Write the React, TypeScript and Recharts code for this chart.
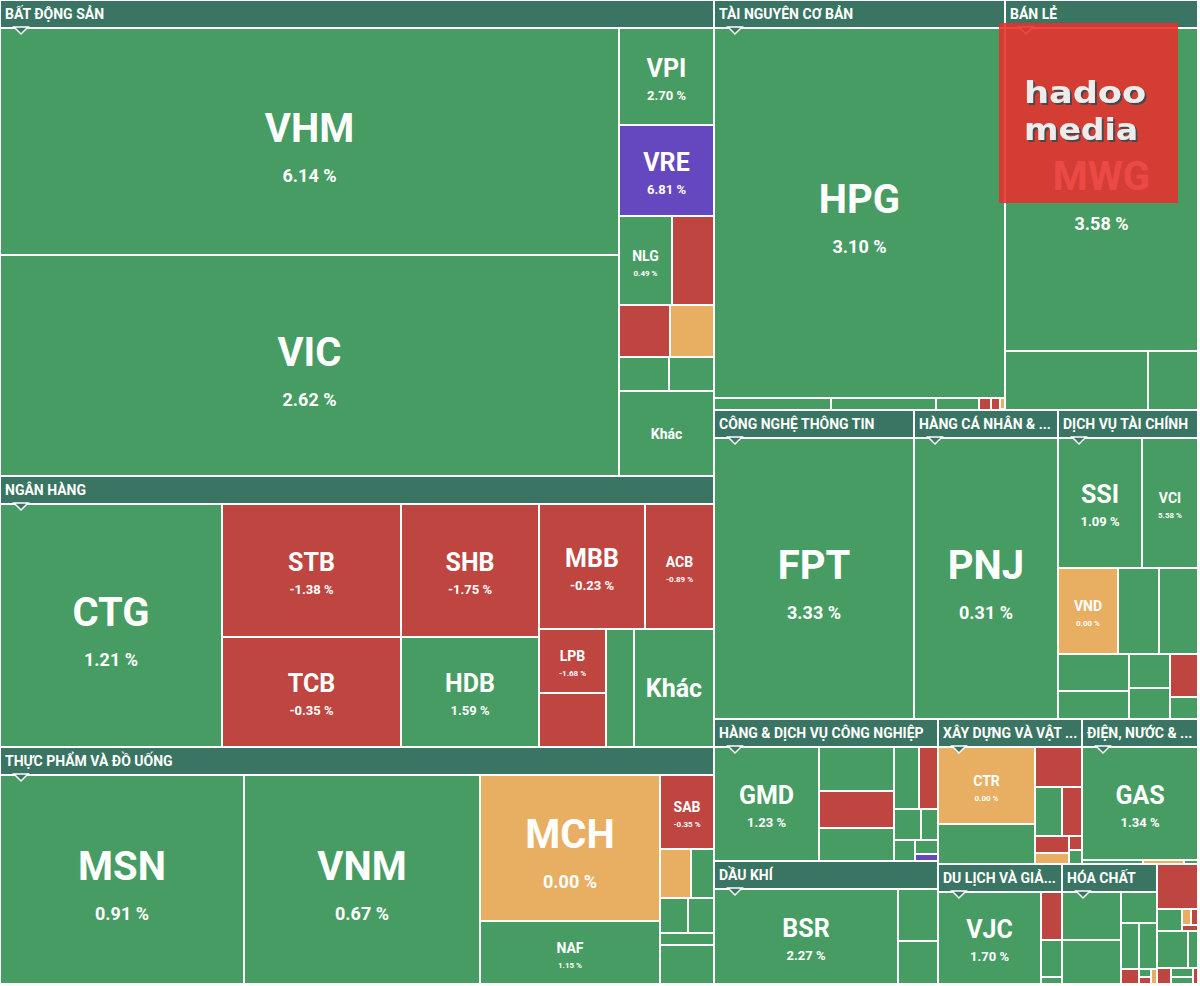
import { Treemap } from "recharts"

// [ticker, size, % change] — empty ticker = cell too small to be labelled
type Stock = [string, number, number]

const batDongSan: Stock[] = [
  ["VHM", 148.5, 6.14], ["VIC", 145, 2.62], ["VPI", 9.8, 2.7], ["VRE", 9.2, 6.81], ["NLG", 5.0, 0.49],
  ["", 3.9, -1.2], ["", 2.8, -0.9], ["", 2.4, 0], ["", 1.8, 0.8], ["", 1.6, 0.6], ["Khác", 8.6, 1.1],
]
const nganHang: Stock[] = [
  ["CTG", 60, 1.21], ["STB", 26.4, -1.38], ["TCB", 21.9, -0.35], ["SHB", 20.4, -1.75], ["HDB", 16.8, 1.59],
  ["MBB", 14.8, -0.23], ["ACB", 9.6, -0.89], ["LPB", 4.8, -1.68], ["", 4.0, -0.5], ["", 3.7, 0.4], ["Khác", 10.5, 0.5],
]
const thucPham: Stock[] = [
  ["MSN", 57.5, 0.91], ["VNM", 55.5, 0.67], ["MCH", 29.6, 0], ["NAF", 12.7, 1.15], ["SAB", 4.5, -0.35],
  ["", 1.7, 0], ["", 1.3, 0.5], ["", 1.1, 0.4], ["", 1.0, 0.3], ["", 0.7, 0.2], ["", 2.6, 0.6],
]
const taiNguyen: Stock[] = [
  ["HPG", 114.8, 3.1], ["", 1.5, 0.5], ["", 1.35, 0.4], ["", 0.55, 0.3], ["", 0.15, -1],
  ["", 0.12, -0.6], ["", 0.06, 0], ["", 0.05, -0.4], ["", 0.05, 0.2],
]
const banLe: Stock[] = [["MWG", 66.8, 3.58], ["", 9.0, 0.9], ["", 3.1, 0.7]]
const congNghe: Stock[] = [["FPT", 61.6, 3.33]]
const hangCaNhan: Stock[] = [["PNJ", 44.4, 0.31]]
const dichVuTaiChinh: Stock[] = [
  ["SSI", 11.9, 1.09], ["VCI", 7.9, 5.58], ["VND", 5.6, 0], ["", 3.85, 0.8], ["", 3.75, 1.2], ["", 2.9, 0.9],
  ["", 2.15, 0.6], ["", 1.5, 0.5], ["", 1.4, 0.7], ["", 1.3, -0.8], ["", 0.65, 0.3],
]
const congNghiep: Stock[] = [
  ["GMD", 14.8, 1.23], ["", 4.1, 0.8], ["", 3.4, -1.1], ["", 3.1, 0.6], ["", 1.9, 0.5], ["", 1.5, -0.9],
  ["", 1.05, 0.4], ["", 0.65, 0.3], ["", 0.55, 0.2], ["", 0.4, 0.5], ["", 0.25, 6.9],
]
const dauKhi: Stock[] = [["BSR", 22.5, 2.27], ["", 2.7, 0.9], ["", 2.2, 0.6]]
const xayDung: Stock[] = [
  ["CTR", 9.2, 0], ["", 4.8, 0.7], ["", 2.3, -1.0], ["", 1.65, 0.5], ["", 1.2, -0.7], ["", 0.73, -0.5],
  ["", 0.43, 0], ["", 0.22, -0.4], ["", 0.22, 0.3], ["", 0.07, 0.2],
]
const dienNuoc: Stock[] = [["GAS", 16.0, 1.34], ["", 0.3, 0.4], ["", 0.2, 0], ["", 0.1, 0.3]]
const duLich: Stock[] = [["VJC", 12.3, 1.7], ["", 1.3, -0.9], ["", 1.0, 0.5], ["", 0.2, 0.3]]
const hoaChat: Stock[] = [
  ["", 3.7, 0.8], ["", 3.35, 0.6], ["", 1.45, 0.5], ["", 1.08, 0.4], ["", 1.07, 0.3],
  ["", 0.36, -0.6], ["", 0.13, 0.2], ["", 0.1, -0.3], ["", 0.1, 0],
]
const baoHiem: Stock[] = [["", 1.85, -1.1], ["", 0.55, 0.4], ["", 0.15, 0], ["", 0.1, -0.5], ["", 0.08, -0.3]]
const yTe: Stock[] = [["", 1.15, 0.5], ["", 0.35, 0.3]]
const oTo: Stock[] = [["", 0.3, -0.6], ["", 0.25, 0.4], ["", 0.2, 0.2], ["", 0.1, -0.3]]
const truyenThong: Stock[] = [["", 0.2, 0.3]]

const sectorNames = [
  "BẤT ĐỘNG SẢN", "NGÂN HÀNG", "THỰC PHẨM VÀ ĐỒ UỐNG", "TÀI NGUYÊN CƠ BẢN", "BÁN LẺ",
  "CÔNG NGHỆ THÔNG TIN", "HÀNG CÁ NHÂN & GIA DỤNG", "DỊCH VỤ TÀI CHÍNH", "HÀNG & DỊCH VỤ CÔNG NGHIỆP",
  "DẦU KHÍ", "XÂY DỰNG VÀ VẬT LIỆU", "ĐIỆN, NƯỚC & XĂNG DẦU KHÍ ĐỐT", "DU LỊCH VÀ GIẢI TRÍ",
  "HÓA CHẤT", "BẢO HIỂM", "Y TẾ", "Ô TÔ VÀ PHỤ TÙNG", "TRUYỀN THÔNG",
]
const sectorStocks = [
  batDongSan, nganHang, thucPham, taiNguyen, banLe, congNghe, hangCaNhan, dichVuTaiChinh, congNghiep,
  dauKhi, xayDung, dienNuoc, duLich, hoaChat, baoHiem, yTe, oTo, truyenThong,
]

const GREEN = "#479C63"
const RED = "#BE4540"
const ORANGE = "#E8AF62"
const PURPLE = "#6548BF"
const HEADER = "#3A7462"
const FONT = "Roboto, 'Noto Sans', sans-serif"
const HEADER_H = 28

const sectorData = sectorNames.map((name, i) => ({
  name,
  size: sectorStocks[i].reduce((s, d) => s + d[1], 0),
  stocks: sectorStocks[i].map(([ticker, size, chg]) => ({ name: ticker, size, chg })),
}))

const cellColor = (chg: number) => (chg >= 6.5 ? PURPLE : chg > 0 ? GREEN : chg < 0 ? RED : ORANGE)

let measureCtx: CanvasRenderingContext2D | null = null
function textWidth(s: string, font: string) {
  if (!measureCtx) measureCtx = document.createElement("canvas").getContext("2d")
  if (!measureCtx) return s.length * 8.5
  measureCtx.font = font
  return measureCtx.measureText(s).width
}

function fitTitle(title: string, maxW: number) {
  const font = "bold 14px Roboto"
  if (textWidth(title, font) <= maxW) return title
  for (let i = title.length - 1; i > 0; i--) {
    const t = title.slice(0, i) + "..."
    if (textWidth(t, font) <= maxW) return t
  }
  return ""
}

const renderStock = (props: any) => {
  const { depth, x, y, width, height, name, chg } = props
  if (depth !== 1) return <g />
  const w = Math.max(0, width - 2)
  const h = Math.max(0, height - 2)
  const cx = x + width / 2
  const cy = y + height / 2
  const m = Math.min(width, height)
  let nameSize = 0
  let pctSize = 0
  let gap = 0
  if (name && m >= 140) {
    nameSize = 40; pctSize = 18; gap = 40
  } else if (name && (m >= 88 || (width >= 76 && height >= 100))) {
    nameSize = 25; pctSize = 13; gap = 23
  } else if (name && width >= 40 && height >= 40) {
    nameSize = 14; pctSize = 8; gap = 15
  }
  const isOther = name === "Khác"
  return (
    <g>
      <rect x={x + 1} y={y + 1} width={w} height={h} fill={cellColor(chg)} />
      {nameSize > 0 && (
        <text
          x={cx}
          y={isOther ? cy + nameSize * 0.36 : cy}
          textAnchor="middle"
          fill="#fff"
          fontFamily={FONT}
          fontWeight="bold"
          fontSize={nameSize}
        >
          {name}
        </text>
      )}
      {nameSize > 0 && !isOther && (
        <text x={cx} y={cy + gap} textAnchor="middle" fill="#fff" fontFamily={FONT} fontWeight="bold" fontSize={pctSize}>
          {`${chg.toFixed(2)} %`}
        </text>
      )}
    </g>
  )
}

const Watermark = ({ x, y }: { x: number; y: number }) => (
  <g>
    <defs>
      <filter id="wm-shadow" x="-10%" y="-10%" width="130%" height="140%">
        <feDropShadow dx="2" dy="2" stdDeviation="0.6" floodColor="#4a4a4a" floodOpacity="1" />
      </filter>
    </defs>
    <rect x={x - 6} y={y + 23} width={179} height={180} fill="#E8302C" fillOpacity={0.88} />
    {[["hadoo", 103, 122], ["media", 140, 114]].map(([word, dy, len]) => (
      <text
        key={word as string}
        x={x + 19}
        y={y + (dy as number)}
        textLength={len as number}
        lengthAdjust="spacingAndGlyphs"
        fill="#ECECEC"
        fontFamily="'DejaVu Sans'"
        fontWeight="bold"
        fontSize={31}
        filter="url(#wm-shadow)"
      >
        {word}
      </text>
    ))}
  </g>
)

const renderSector = (props: any) => {
  const { depth, x, y, width, height, name, stocks } = props
  if (depth !== 1 || !stocks) return <g />
  const hasHeader = width >= 60 && height >= 60
  const top = hasHeader ? HEADER_H : 0
  const innerH = Math.max(1, height - top)
  return (
    <g>
      {hasHeader && <rect x={x + 1} y={y + 1} width={Math.max(0, width - 2)} height={HEADER_H - 2} fill={HEADER} />}
      {hasHeader && (
        <text x={x + 5} y={y + 19} fill="#fff" fontFamily={FONT} fontWeight="bold" fontSize={14}>
          {fitTitle(name, width - 9)}
        </text>
      )}
      <foreignObject x={x} y={y + top} width={width} height={innerH}>
        <Treemap
          width={width}
          height={innerH}
          data={stocks}
          dataKey="size"
          isAnimationActive={false}
          content={renderStock}
        />
      </foreignObject>
      {hasHeader && (
        <polygon
          points={`${x + 14},${y + 27} ${x + 21},${y + 34} ${x + 28},${y + 27}`}
          fill={HEADER}
          stroke="#fff"
          strokeWidth={1.5}
        />
      )}
      {name === "BÁN LẺ" && <Watermark x={x} y={y} />}
    </g>
  )
}

export default function App() {
  return (
    <div style={{ position: "absolute", left: 0, top: 0, width: 1198, height: 984, background: "#fff" }}>
      <Treemap
        width={1198}
        height={984}
        data={sectorData}
        dataKey="size"
        aspectRatio={1.65}
        isAnimationActive={false}
        content={renderSector}
      />
    </div>
  )
}
